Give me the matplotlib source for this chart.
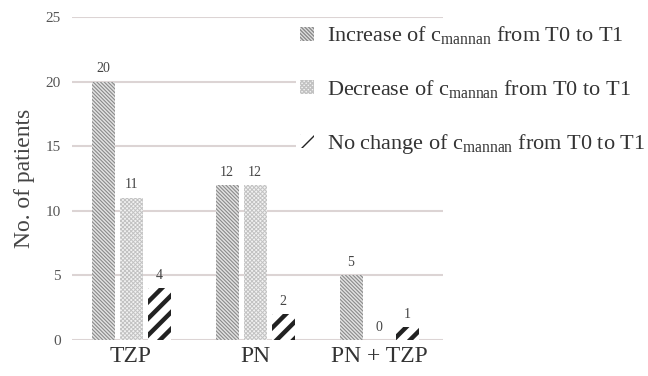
import numpy as np
import matplotlib

matplotlib.use("Agg")
import matplotlib.pyplot as plt

groups = ["TZP", "PN", "PN + TZP"]
increase = [20, 12, 5]
decrease = [11, 12, 0]
no_change = [4, 2, 1]
labels = [
    r"Increase of c$_{\mathrm{mannan}}$ from T0 to T1",
    r"Decrease of c$_{\mathrm{mannan}}$ from T0 to T1",
    r"No change of c$_{\mathrm{mannan}}$ from T0 to T1",
]
yticks = [0, 5, 10, 15, 20, 25]

plt.rcParams["font.family"] = ["Liberation Serif", "DejaVu Serif"]
plt.rcParams["mathtext.fontset"] = "custom"
plt.rcParams["mathtext.rm"] = "Liberation Serif"
plt.rcParams["mathtext.it"] = "Liberation Serif:italic"

fig = plt.figure(figsize=(6.48, 3.76), dpi=100)
ax = fig.add_axes([72 / 648, 36 / 376, 371 / 648, 323 / 376])

x = np.arange(len(groups)) * 0.992
w = 0.184
off = 0.224

styles = [
    dict(facecolor="#e2e2e2", edgecolor="#8a8a8a", hatch="\\" * 9, hlw=0.8),
    dict(facecolor="#f2f2f2", edgecolor="#c2c2c2", hatch="x" * 8, hlw=0.7),
    dict(facecolor="white", edgecolor="#222222", hatch="//", hlw=3.2),
]
series = [increase, decrease, no_change]

handles = []
for i, (vals, st) in enumerate(zip(series, styles)):
    bars = ax.bar(x + (i - 1) * off, vals, width=w, facecolor=st["facecolor"],
                  edgecolor=st["edgecolor"], hatch=st["hatch"], linewidth=0, zorder=2)
    for b in bars:
        if hasattr(b, "set_hatch_linewidth"):
            b.set_hatch_linewidth(st["hlw"])
    handles.append(bars)
    for xi, v in zip(x + (i - 1) * off, vals):
        ax.text(xi, v + 0.5, str(v), ha="center", va="bottom", fontsize=10, color="#444444")

ax.set_xlim(-0.472, 2.496)
ax.set_ylim(0, 25)
ax.set_yticks(yticks)
ax.yaxis.grid(True, color="#dcd4d4", linewidth=1.5, zorder=0)
ax.set_axisbelow(True)
for s in ax.spines.values():
    s.set_visible(False)
ax.tick_params(axis="y", length=0, pad=8, labelsize=11, labelcolor="#555555")
ax.tick_params(axis="x", length=0, pad=4, labelsize=17, labelcolor="#333333")
ax.set_xticks(x)
ax.set_xticklabels(groups)
ax.set_ylabel("No. of patients", fontsize=17, color="#444444", labelpad=8)

leg = fig.legend(handles, labels, loc="upper left", bbox_to_anchor=(296 / 648, 1 - 20 / 376),
                 frameon=True, fontsize=16, labelspacing=1.42, handlelength=0.6,
                 handleheight=0.6, handletextpad=0.6, borderpad=0.2, borderaxespad=0)
leg.get_frame().set_facecolor("white")
leg.get_frame().set_edgecolor("none")
leg.get_frame().set_alpha(1)
for t in leg.get_texts():
    t.set_color("#333333")

fig.savefig("out.png", dpi=100)
plt.close(fig)
